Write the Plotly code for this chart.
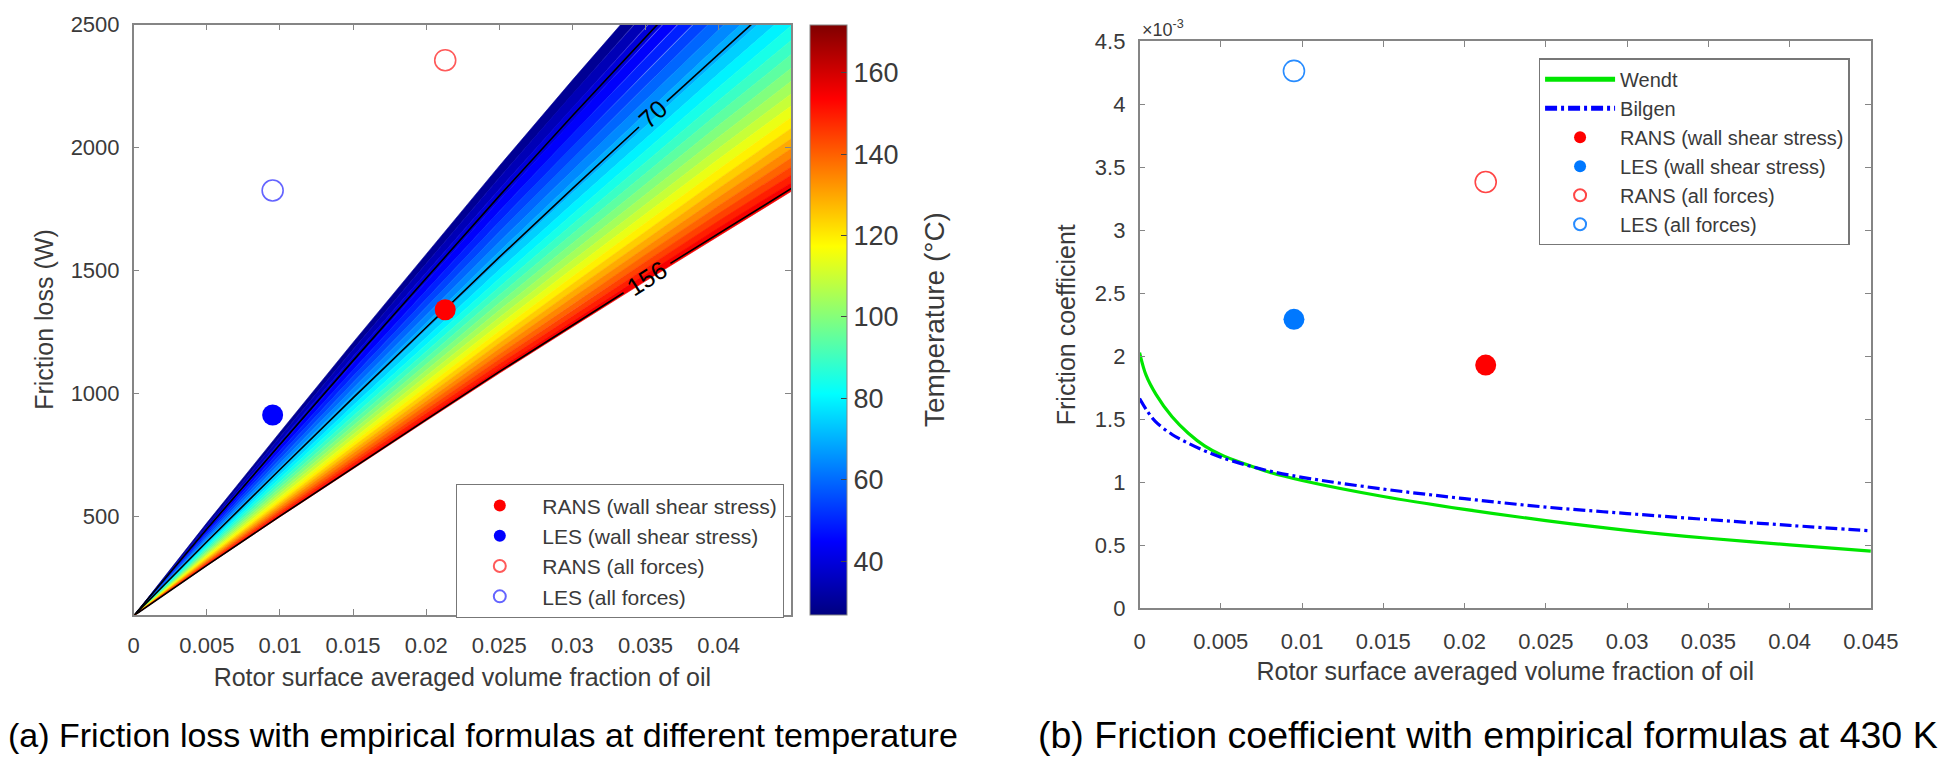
import numpy as np
import plotly.graph_objects as go
from plotly.colors import sample_colorscale

# ---------------- data: (a) friction loss ----------------
oil_frac_rans = 0.0213
oil_frac_les = 0.0095
loss_rans_wss = 1340
loss_les_wss = 912
loss_rans_all = 2355
loss_les_all = 1825

# empirical band boundaries: temperature (degC) -> friction loss at oil fraction 0.045
band_temps = [27, 32, 37, 42, 47, 52, 57, 62, 67, 72, 77, 82, 87, 92, 97, 102,
              107, 112, 117, 122, 127, 132, 137, 142, 147, 152, 158]
band_edge_loss = [3300.0, 3216.2, 3134.4, 3055.0, 2977.6, 2902.5, 2829.5, 2758.7,
                  2690.2, 2623.7, 2559.5, 2497.5, 2437.5, 2379.9, 2324.3, 2271.0,
                  2219.9, 2170.9, 2124.2, 2079.5, 2037.1, 1996.9, 1958.8, 1923.0,
                  1889.2, 1857.7, 1822.8]
contour_temps = [40, 70, 156]
contour_edge_loss = [3086.5, 2650.0, 1834.1]
loss_no_oil = 95  # common apex (air only)
# shape of the iso-temperature lines (fraction of the rise at x = 0.045)
profile_x = [0, 0.005, 0.01, 0.015, 0.02, 0.025, 0.03, 0.035, 0.04, 0.045]
profile_g = [0, 0.118, 0.233, 0.347, 0.459, 0.571, 0.680, 0.788, 0.895, 1.0]
contour_label_x = [None, 0.0355, 0.0351]

cb_ticks = [40, 60, 80, 100, 120, 140, 160]
t_min, t_max = 26.85, 171.85
x_ticks_a = [0, 0.005, 0.01, 0.015, 0.02, 0.025, 0.03, 0.035, 0.04]
x_text_a = ['0', '0.005', '0.01', '0.015', '0.02', '0.025', '0.03', '0.035', '0.04']
y_ticks_a = [500, 1000, 1500, 2000, 2500]

# ---------------- data: (b) friction coefficient ----------------
wendt_x = [0, 0.0004, 0.001, 0.002, 0.003, 0.004, 0.005, 0.0065, 0.008, 0.01,
           0.015, 0.02, 0.025, 0.03, 0.035, 0.04, 0.045]
wendt_cf = [2.03e-3, 1.85e-3, 1.70e-3, 1.52e-3, 1.39e-3, 1.29e-3, 1.22e-3, 1.145e-3,
            1.08e-3, 1.015e-3, 0.888e-3, 0.786e-3, 0.697e-3, 0.620e-3, 0.557e-3,
            0.505e-3, 0.455e-3]
bilgen_x = [0, 0.0005, 0.001, 0.002, 0.003, 0.004, 0.005, 0.0065, 0.008, 0.01,
            0.015, 0.02, 0.025, 0.03, 0.035, 0.04, 0.045]
bilgen_cf = [1.665e-3, 1.56e-3, 1.48e-3, 1.38e-3, 1.31e-3, 1.25e-3, 1.20e-3, 1.14e-3,
             1.09e-3, 1.04e-3, 0.947e-3, 0.871e-3, 0.804e-3, 0.753e-3, 0.705e-3,
             0.659e-3, 0.616e-3]
cf_rans_wss = 1.93e-3
cf_les_wss = 2.293e-3
cf_rans_all = 3.382e-3
cf_les_all = 4.263e-3
x_ticks_b = [0, 0.005, 0.01, 0.015, 0.02, 0.025, 0.03, 0.035, 0.04, 0.045]
x_text_b = ['0', '0.005', '0.01', '0.015', '0.02', '0.025', '0.03', '0.035', '0.04', '0.045']
y_ticks_b = [0, 0.5e-3, 1e-3, 1.5e-3, 2e-3, 2.5e-3, 3e-3, 3.5e-3, 4e-3, 4.5e-3]
y_text_b = ['0', '0.5', '1', '1.5', '2', '2.5', '3', '3.5', '4', '4.5']

# ---------------- styling ----------------
W, H = 1948, 763
FONT = 'Liberation Sans, Arial, sans-serif'
TXT = '#3a3a3a'
AX = '#858585'
jet = [[0, 'rgb(0,0,128)'], [0.125, 'rgb(0,0,255)'], [0.375, 'rgb(0,255,255)'],
       [0.625, 'rgb(255,255,0)'], [0.875, 'rgb(255,0,0)'], [1, 'rgb(128,0,0)']]
label_gap = [0, 0.00095, 0.0016]   # half-gap (in x) left open around contour labels
label_angle = [0, -43, -32.5]

px = np.array(profile_x)
pg = np.array(profile_g)


def iso_line(edge):
    return loss_no_oil + (edge - loss_no_oil) * pg


fig = go.Figure()

# colour bands
for i in range(len(band_temps) - 1):
    tm = 0.5 * (band_temps[i] + band_temps[i + 1])
    col = sample_colorscale(jet, [(tm - t_min) / (t_max - t_min)])[0]
    upper = iso_line(band_edge_loss[i])
    lower = iso_line(band_edge_loss[i + 1])
    xs = list(px) + list(px[::-1])
    ys = list(upper) + list(lower[::-1])
    fig.add_trace(go.Scatter(x=xs, y=ys, mode='lines', fill='toself', fillcolor=col,
                             line=dict(color=col, width=0.6), hoverinfo='skip',
                             showlegend=False, xaxis='x', yaxis='y'))

# contour lines (broken where the label sits)
annotations = []
for t, e, lx, gap, ang in zip(contour_temps, contour_edge_loss, contour_label_x, label_gap, label_angle):
    line_y = iso_line(e)
    if lx is None:
        xs, ys = list(px), list(line_y)
    else:
        left, right = lx - gap, lx + gap
        xs = [x for x in px if x < left] + [left, None, right] + [x for x in px if x > right]
        ys = [None if x is None else float(np.interp(x, px, line_y)) for x in xs]
        annotations.append(dict(x=lx, y=float(np.interp(lx, px, line_y)), xref='x', yref='y',
                                text=str(t), showarrow=False, textangle=ang,
                                font=dict(size=25, color='black', family=FONT)))
    fig.add_trace(go.Scatter(x=xs, y=ys, mode='lines', connectgaps=False,
                             line=dict(color='black', width=1.6), hoverinfo='skip',
                             showlegend=False, xaxis='x', yaxis='y'))

# colourbar carrier
fig.add_trace(go.Scatter(x=[None], y=[None], mode='markers', showlegend=False,
                         marker=dict(color=[t_min], colorscale=jet, cmin=t_min, cmax=t_max,
                                     showscale=True,
                                     colorbar=dict(x=818 / W, xanchor='left', thickness=37,
                                                   len=610 / H, lenmode='fraction',
                                                   y=1 - 318 / H, yanchor='middle',
                                                   outlinewidth=1, outlinecolor=AX,
                                                   tickvals=cb_ticks, ticks='inside',
                                                   ticklen=6, tickcolor='#444',
                                                   tickfont=dict(size=27, color=TXT, family=FONT),
                                                   xpad=0, ypad=0)),
                         xaxis='x', yaxis='y'))

# (a) data points
mk = 21
fig.add_trace(go.Scatter(x=[oil_frac_rans], y=[loss_rans_wss], mode='markers', name='RANS (wall shear stress)',
                         marker=dict(color='rgb(255,0,0)', size=mk), xaxis='x', yaxis='y', legend='legend'))
fig.add_trace(go.Scatter(x=[oil_frac_les], y=[loss_les_wss], mode='markers', name='LES (wall shear stress)',
                         marker=dict(color='rgb(0,0,255)', size=mk), xaxis='x', yaxis='y', legend='legend'))
fig.add_trace(go.Scatter(x=[oil_frac_rans], y=[loss_rans_all], mode='markers', name='RANS (all forces)',
                         marker=dict(color='rgba(0,0,0,0)', size=mk, line=dict(color='rgb(255,90,90)', width=1.6)),
                         xaxis='x', yaxis='y', legend='legend'))
fig.add_trace(go.Scatter(x=[oil_frac_les], y=[loss_les_all], mode='markers', name='LES (all forces)',
                         marker=dict(color='rgba(0,0,0,0)', size=mk, line=dict(color='rgb(100,100,255)', width=1.6)),
                         xaxis='x', yaxis='y', legend='legend'))

# (b) curves and points
fig.add_trace(go.Scatter(x=wendt_x, y=wendt_cf, mode='lines', name='Wendt',
                         line=dict(color='rgb(0,230,0)', width=3.2, shape='spline'),
                         xaxis='x2', yaxis='y2', legend='legend2'))
fig.add_trace(go.Scatter(x=bilgen_x, y=bilgen_cf, mode='lines', name='Bilgen',
                         line=dict(color='rgb(0,0,255)', width=3.2, dash='12px,4px,3px,4px', shape='spline'),
                         xaxis='x2', yaxis='y2', legend='legend2'))
fig.add_trace(go.Scatter(x=[oil_frac_rans], y=[cf_rans_wss], mode='markers', name='RANS (wall shear stress)',
                         marker=dict(color='rgb(255,0,0)', size=mk), xaxis='x2', yaxis='y2', legend='legend2'))
fig.add_trace(go.Scatter(x=[oil_frac_les], y=[cf_les_wss], mode='markers', name='LES (wall shear stress)',
                         marker=dict(color='rgb(0,120,255)', size=mk), xaxis='x2', yaxis='y2', legend='legend2'))
fig.add_trace(go.Scatter(x=[oil_frac_rans], y=[cf_rans_all], mode='markers', name='RANS (all forces)',
                         marker=dict(color='rgba(0,0,0,0)', size=mk, line=dict(color='rgb(255,70,70)', width=1.6)),
                         xaxis='x2', yaxis='y2', legend='legend2'))
fig.add_trace(go.Scatter(x=[oil_frac_les], y=[cf_les_all], mode='markers', name='LES (all forces)',
                         marker=dict(color='rgba(0,0,0,0)', size=mk, line=dict(color='rgb(40,140,255)', width=1.6)),
                         xaxis='x2', yaxis='y2', legend='legend2'))

annotations.append(dict(x=945 / W, y=1 - 318 / H, xref='paper', yref='paper', xanchor='center',
                        yanchor='middle', showarrow=False, text='Temperature (°C)', textangle=-90,
                        font=dict(size=28, color=TXT, family=FONT)))
annotations.append(dict(x=1154 / W, y=1 - 17 / H, xref='paper', yref='paper', xanchor='left',
                        yanchor='middle', showarrow=False, text='×10<sup>-3</sup>',
                        font=dict(size=18, color=TXT, family=FONT)))
CAP = 'Liberation Sans, Arial, sans-serif'
annotations.append(dict(x=0, y=1 - 748 / H, xref='paper', yref='paper', xanchor='left', yanchor='middle',
                        showarrow=False, text='(a) Friction loss with empirical formulas at different temperature',
                        font=dict(size=34, color='black', family=CAP)))
annotations.append(dict(x=1048 / W, y=1 - 748 / H, xref='paper', yref='paper', xanchor='left', yanchor='middle',
                        showarrow=False, text='(b) Friction coefficient with empirical formulas at 430 K',
                        font=dict(size=37.5, color='black', family=CAP)))

axis_common = dict(showline=True, linecolor=AX, linewidth=1.5, mirror='ticks', ticks='inside',
                   ticklen=6, tickcolor=AX, tickwidth=1.3, showgrid=False, zeroline=False,
                   tickfont=dict(size=22, color=TXT, family=FONT))

fig.update_layout(
    width=W, height=H, margin=dict(l=0, r=0, t=0, b=0),
    paper_bgcolor='white', plot_bgcolor='white',
    font=dict(family=FONT, color=TXT),
    xaxis=dict(domain=[130 / W, 799 / W], range=[0, 0.04495], tickvals=x_ticks_a, ticktext=x_text_a,
               anchor='y', ticklabelstandoff=10,
               title=dict(text='Rotor surface averaged volume fraction of oil', standoff=12,
                          font=dict(size=25, color=TXT, family=FONT)), **axis_common),
    yaxis=dict(domain=[1 - 623 / H, 1 - 13 / H], range=[100, 2500], tickvals=y_ticks_a,
               anchor='x', ticklabelstandoff=8,
               title=dict(text='Friction loss (W)', standoff=10,
                          font=dict(size=25, color=TXT, family=FONT)), **axis_common),
    xaxis2=dict(domain=[1153.7 / W, 1898 / W], range=[0, 0.045], tickvals=x_ticks_b, ticktext=x_text_b,
                anchor='y2', ticklabelstandoff=12,
                title=dict(text='Rotor surface averaged volume fraction of oil', standoff=10,
                           font=dict(size=25, color=TXT, family=FONT)), **axis_common),
    yaxis2=dict(domain=[1 - 616.7 / H, 1 - 30 / H], range=[0, 4.5e-3], tickvals=y_ticks_b, ticktext=y_text_b,
                anchor='x2', ticklabelstandoff=8,
                title=dict(text='Friction coefficient', standoff=12,
                           font=dict(size=25, color=TXT, family=FONT)), **axis_common),
    legend=dict(x=458 / W, y=1 - 488 / H, xanchor='left', yanchor='top', bordercolor='#777',
                borderwidth=1.3, bgcolor='white', font=dict(size=21, color=TXT, family=FONT),
                itemwidth=75, itemsizing='constant'),
    legend2=dict(x=1560 / W, y=1 - 48 / H, xanchor='left', yanchor='top', bordercolor='#777',
                 borderwidth=1.3, bgcolor='white', font=dict(size=20, color=TXT, family=FONT),
                 itemwidth=70, itemsizing='constant'),
    annotations=annotations,
)

fig.write_html('out.html')
